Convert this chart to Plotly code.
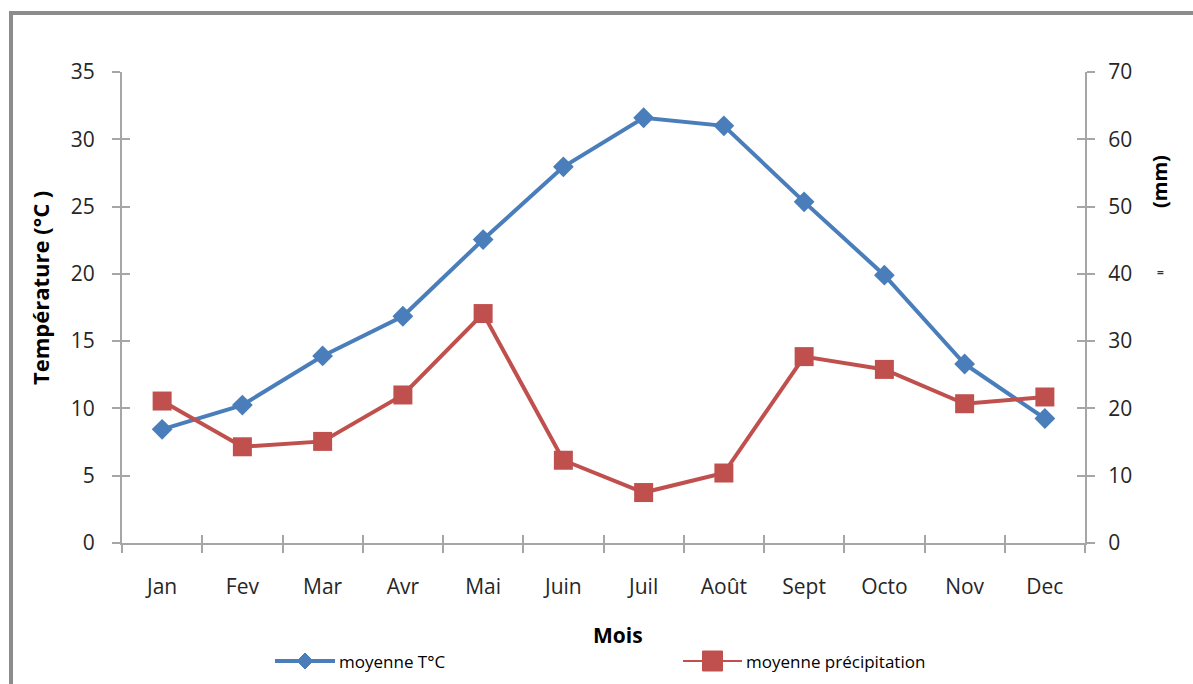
import plotly.graph_objects as go

months = ["Jan", "Fev", "Mar", "Avr", "Mai", "Juin", "Juil", "Août", "Sept", "Octo", "Nov", "Dec"]
temperature = [8.45, 10.25, 13.9, 16.85, 22.55, 27.95, 31.6, 31.0, 25.35, 19.9, 13.3, 9.25]
precipitation = [21.1, 14.3, 15.1, 22.0, 34.1, 12.3, 7.5, 10.4, 27.7, 25.8, 20.7, 21.7]
left_ticks = [0, 5, 10, 15, 20, 25, 30, 35]
right_ticks = [0, 10, 20, 30, 40, 50, 60, 70]

BLUE = "#4A7EBB"
RED = "#C0504D"
AXIS = "#A6A6A6"
FONT = "Open Sans, Liberation Sans, sans-serif"
TICKFONT = dict(family=FONT, size=21, color="#262626")

fig = go.Figure()
fig.add_trace(go.Scatter(
    x=months, y=temperature, name="moyenne T°C", mode="lines+markers",
    line=dict(color=BLUE, width=4),
    marker=dict(symbol="diamond", size=16, color=BLUE),
    xaxis="x", yaxis="y", showlegend=False))
fig.add_trace(go.Scatter(
    x=months, y=precipitation, name="moyenne précipitation", mode="lines+markers",
    line=dict(color=RED, width=4),
    marker=dict(symbol="square", size=19, color=RED),
    xaxis="x", yaxis="y2", showlegend=False))
# empty traces registering the overlay axes that draw the inner half of the crossing ticks
fig.add_trace(go.Scatter(x=[], y=[], xaxis="x2", yaxis="y3", showlegend=False, hoverinfo="skip"))
fig.add_trace(go.Scatter(x=[], y=[], xaxis="x2", yaxis="y4", showlegend=False, hoverinfo="skip"))

common_y = dict(showgrid=False, zeroline=False, ticklen=8, tickwidth=2, tickcolor=AXIS)

fig.update_layout(
    width=1193, height=684,
    margin=dict(l=122, r=108, t=72, b=141),
    paper_bgcolor="white", plot_bgcolor="white",
    font=dict(family=FONT, color="#262626"),
    showlegend=False,
    xaxis=dict(type="category", categoryorder="array", categoryarray=months,
               range=[-0.5, 11.5], tickson="boundaries", ticks="outside", ticklen=8,
               tickwidth=2, tickcolor=AXIS, showline=True, linecolor=AXIS, linewidth=2,
               showgrid=False, zeroline=False, tickfont=TICKFONT, anchor="y",
               ticklabelstandoff=24),
    xaxis2=dict(overlaying="x", range=[-0.5, 11.5], tickmode="array",
                tickvals=[i - 0.5 for i in range(13)], ticks="inside", ticklen=8,
                tickwidth=2, tickcolor=AXIS, showticklabels=False, showline=False,
                showgrid=False, zeroline=False, anchor="y3"),
    yaxis=dict(range=[0, 35], tickmode="array", tickvals=left_ticks, ticks="outside",
               showline=True, linecolor=AXIS, linewidth=2, tickfont=TICKFONT,
               ticklabelstandoff=13, **common_y),
    yaxis2=dict(range=[0, 70], tickmode="array", tickvals=right_ticks, ticks="outside",
                overlaying="y", side="right", showline=True, linecolor=AXIS, linewidth=2,
                tickfont=TICKFONT, ticklabelstandoff=9, anchor="x", **common_y),
    yaxis3=dict(range=[0, 35], tickmode="array", tickvals=left_ticks, ticks="inside",
                overlaying="y", showticklabels=False, showline=False, anchor="x", **common_y),
    yaxis4=dict(range=[0, 70], tickmode="array", tickvals=right_ticks, ticks="inside",
                overlaying="y", side="right", showticklabels=False, showline=False,
                anchor="x", **common_y),
)

def px_x(p):
    return (p - 122) / 963.0

def px_y(p):
    return (543 - p) / 471.0

fig.add_annotation(text="<b>Température (°C )</b>", xref="paper", yref="paper",
                   x=px_x(40), y=px_y(288), textangle=-90, showarrow=False,
                   font=dict(family=FONT, size=22, color="black"),
                   xanchor="center", yanchor="middle")
fig.add_annotation(text="<b>Mois</b>", xref="paper", yref="paper", x=px_x(618), y=px_y(635),
                   showarrow=False, font=dict(family=FONT, size=21, color="black"),
                   xanchor="center", yanchor="middle")
fig.add_annotation(text="<b>(mm)</b>", xref="paper", yref="paper", x=px_x(1160), y=px_y(182),
                   textangle=-90, showarrow=False,
                   font=dict(family=FONT, size=20, color="black"),
                   xanchor="center", yanchor="middle")
fig.add_annotation(text="<b>=</b>", xref="paper", yref="paper", x=px_x(1160), y=px_y(272),
                   showarrow=False, font=dict(family=FONT, size=12, color="#333333"),
                   xanchor="center", yanchor="middle")

# legend (drawn by hand so the sample lines are as long as in the original)
legend_y = px_y(661)
legend_items = [
    ("moyenne T°C", BLUE, "diamond", 275, 335),
    ("moyenne précipitation", RED, "square", 683, 742),
]
for label, color, sym, x0, x1 in legend_items:
    fig.add_shape(type="line", xref="paper", yref="paper",
                  x0=px_x(x0), x1=px_x(x1), y0=legend_y, y1=legend_y,
                  line=dict(color=color, width=(4 if sym == "diamond" else 2)))
    xc = (x0 + x1) / 2
    if sym == "diamond":
        d = 8
        path = (f"M {px_x(xc - d)},{legend_y} L {px_x(xc)},{px_y(661 - d)} "
                f"L {px_x(xc + d)},{legend_y} L {px_x(xc)},{px_y(661 + d)} Z")
        fig.add_shape(type="path", xref="paper", yref="paper", path=path,
                      fillcolor=color, line=dict(color=color, width=1))
    else:
        h = 10
        fig.add_shape(type="rect", xref="paper", yref="paper",
                      x0=px_x(xc - h), x1=px_x(xc + h), y0=px_y(661 + h), y1=px_y(661 - h),
                      fillcolor=color, line=dict(color=color, width=1))
    fig.add_annotation(text=label, xref="paper", yref="paper", x=px_x(x1 + 2), y=legend_y,
                       showarrow=False, xanchor="left", yanchor="middle",
                       font=dict(family=FONT, size=17, color="black"))

# outer frame (left and top edges visible)
fig.add_shape(type="path", xref="paper", yref="paper",
              path=f"M {px_x(11)},-0.4 L {px_x(11)},{px_y(13)} L 1.25,{px_y(13)}",
              line=dict(color="#8C8C8C", width=4), layer="above")

fig.write_html("out.html", config={"displayModeBar": False},
               post_script="document.body.style.margin='0';")
